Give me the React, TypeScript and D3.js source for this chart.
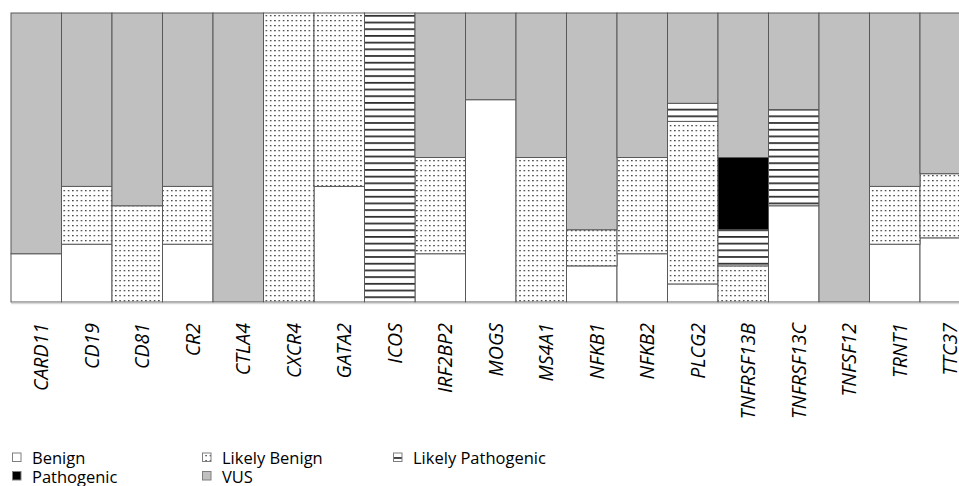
import React from "react";
import * as d3 from "d3";

const genes = ["CARD11","CD19","CD81","CR2","CTLA4","CXCR4","GATA2","ICOS","IRF2BP2","MOGS","MS4A1","NFKB1","NFKB2","PLCG2","TNFRSF13B","TNFRSF13C","TNFSF12","TRNT1","TTC37"];
const benign =           [16.7, 20, 0,    20, 0,   0,   40, 0,   16.7, 70, 0,  12.5, 16.7, 6.25,  0,    33.3, 0,   20, 22.2];
const likelyBenign =     [0,    20, 33.3, 20, 0,   100, 60, 0,   33.3, 0,  50, 12.5, 33.3, 56.25, 12.5, 0,    0,   20, 22.2];
const likelyPathogenic = [0,    0,  0,    0,  0,   0,   0,  100, 0,    0,  0,  0,    0,    6.25,  12.5, 33.3, 0,   0,  0];
const pathogenic =       [0,    0,  0,    0,  0,   0,   0,  0,   0,    0,  0,  0,    0,    0,     25,   0,    0,   0,  0];
const vus =              [83.3, 60, 66.7, 60, 100, 0,   0,  0,   50,   30, 50, 75,   50,   31.25, 50,   33.4, 100, 60, 55.6];

const seriesKeys = ["Benign", "Likely Benign", "Likely Pathogenic", "Pathogenic", "VUS"];
const seriesValues = [benign, likelyBenign, likelyPathogenic, pathogenic, vus];

const fills: Record<string, string> = {
  "Benign": "#ffffff",
  "Likely Benign": "url(#dots)",
  "Likely Pathogenic": "url(#hlines)",
  "Pathogenic": "#000000",
  "VUS": "#c0c0c0",
};

export default function App() {
  const W = 959, H = 486;
  const left = 11, barW = 50.5;
  const top = 13, bottom = 302;
  const x = d3.scaleBand<string>().domain(genes).range([left, left + genes.length * barW]).padding(0);
  const y = d3.scaleLinear().domain([0, 100]).range([bottom, top]);

  const rows = genes.map((g, i) => {
    const r: any = { gene: g };
    seriesKeys.forEach((k, j) => (r[k] = seriesValues[j][i]));
    return r;
  });
  const stack = d3.stack<any>().keys(seriesKeys)(rows);

  const font = "'Open Sans', 'Liberation Sans', sans-serif";
  const legendCols = [12, 202, 393];
  const legendRows = [464, 482.5];
  const legendItems = [
    { key: "Benign", col: 0, row: 0 },
    { key: "Likely Benign", col: 1, row: 0 },
    { key: "Likely Pathogenic", col: 2, row: 0 },
    { key: "Pathogenic", col: 0, row: 1 },
    { key: "VUS", col: 1, row: 1 },
  ];

  return (
    <svg width={W} height={H} style={{ position: "absolute", left: 0, top: 0, background: "#fff" }}>
      <defs>
        <pattern id="dots" patternUnits="userSpaceOnUse" width={4.3} height={5} x={left} y={top}>
          <rect width={4.3} height={5} fill="#fff" />
          <rect x={1} y={2} width={1.3} height={1.3} fill="#222" />
        </pattern>
        <pattern id="hlines" patternUnits="userSpaceOnUse" width={10} height={6.7} x={0} y={top}>
          <rect width={10} height={6.7} fill="#fff" />
          <rect x={0} y={2} width={10} height={1.6} fill="#1a1a1a" />
        </pattern>
      </defs>
      <g>
        {stack.map((s) =>
          s.map((d, i) => {
            const h = y(d[0]) - y(d[1]);
            if (h <= 0.01) return null;
            return (
              <rect
                key={s.key + i}
                x={x(genes[i])}
                y={y(d[1])}
                width={x.bandwidth()}
                height={h}
                fill={fills[s.key]}
                stroke="#595959"
                strokeWidth={1}
              />
            );
          })
        )}
      </g>
      <line x1={left} x2={W} y1={303.5} y2={303.5} stroke="#d9d9d9" strokeWidth={1.5} />
      <g>
        {genes.map((g) => {
          const cx = (x(g) as number) + x.bandwidth() / 2 + 12;
          const ty = 323;
          return (
            <text
              key={g}
              transform={`translate(${cx},${ty}) rotate(-90)`}
              textAnchor="end"
              fontFamily={font}
              fontStyle="italic"
              fontSize={19.5}
              fill="#000"
            >
              {g}
            </text>
          );
        })}
      </g>
      <g>
        {legendItems.map((it) => {
          const sx = legendCols[it.col];
          const by = legendRows[it.row];
          return (
            <g key={it.key}>
              <rect x={sx + 0.5} y={by - 11} width={8.5} height={8.5} fill={fills[it.key]} stroke="#7f7f7f" strokeWidth={1} />
              <text x={sx + 20} y={by} fontFamily={font} fontSize={16.5} fill="#000">
                {it.key}
              </text>
            </g>
          );
        })}
      </g>
    </svg>
  );
}
